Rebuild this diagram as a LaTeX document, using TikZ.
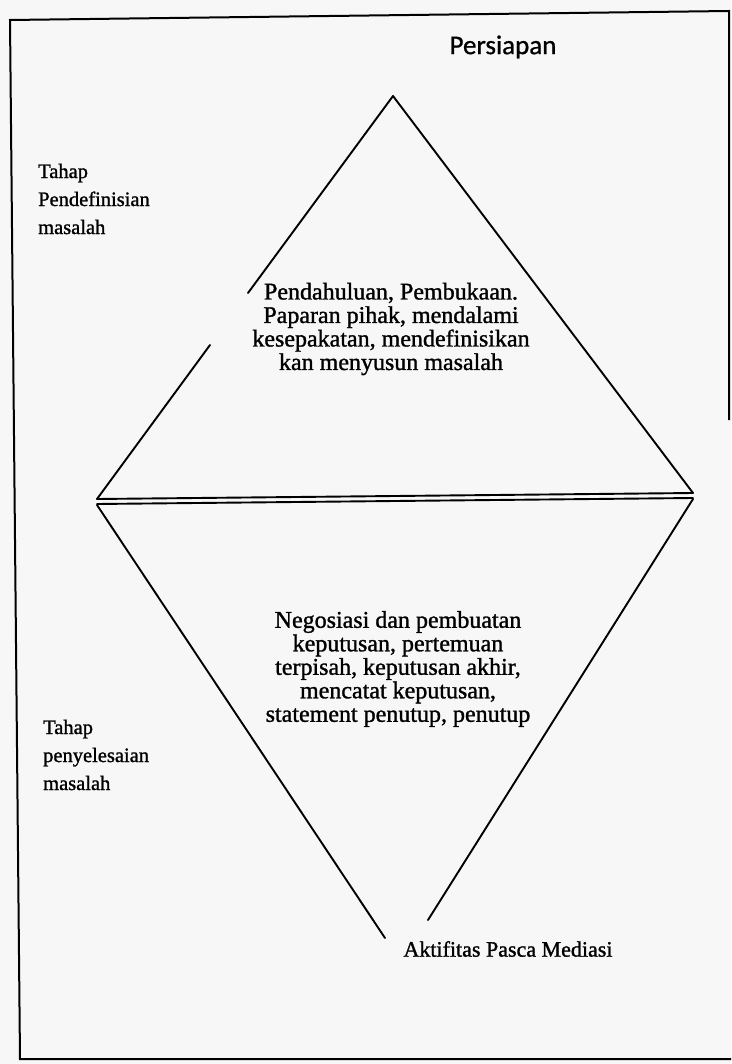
\documentclass[tikz,border=0pt]{standalone}
\usepackage{fontspec}
\setmainfont{Liberation Serif}[FakeBold=1.2]
\newfontfamily\carlitofont{Carlito}[FakeBold=0.8]
\begin{document}
\begin{tikzpicture}[x=1pt,y=-1pt,
  edge/.style={line width=1.9pt,line cap=round,line join=round},
  frameline/.style={line width=2pt},
  midtext/.style={align=center,inner sep=0pt,font=\fontsize{24}{23.5}\selectfont},
  sidetext/.style={align=left,anchor=west,inner sep=0pt,font=\fontsize{20.5}{28}\selectfont},
]
\useasboundingbox (0,0) rectangle (731,1064);
\fill[black!3] (0,0) rectangle (731,1064);
% frame
\coordinate (fTL) at (10,20);
\coordinate (fTR) at (729,11);
\coordinate (fRB) at (729,420);
\coordinate (fBL) at (20,1059);
\coordinate (fBR) at (731,1059);
\draw[frameline] (fRB) -- (fTR) -- (fTL) -- (fBL) -- (fBR);
% upper triangle
\coordinate (apex) at (393,96);
\coordinate (uL) at (97,499);
\coordinate (uR) at (693,493);
\coordinate (gapA) at (248,293);
\coordinate (gapB) at (210,345);
\draw[edge] (apex) -- (gapA);
\draw[edge] (gapB) -- (uL);
\draw[edge] (apex) -- (uR);
% double line
\coordinate (dL) at (97,504);
\coordinate (dR) at (693,498);
\draw[edge] (uL) -- (uR);
\draw[edge] (dL) -- (dR);
% lower triangle
\coordinate (lL) at (97,505);
\coordinate (lR) at (693,499);
\coordinate (bL) at (385,938);
\coordinate (bR) at (428,920);
\draw[edge] (lL) -- (bL);
\draw[edge] (lR) -- (bR);
% texts
\node[inner sep=0pt,font=\carlitofont\fontsize{27}{30}\selectfont] (persiapan) at (503,47) {Persiapan};
\node[sidetext] (tahap1) at (38,199) {Tahap\\Pendefinisian\\masalah};
\node[midtext] (pend) at (391,329) {Pendahuluan, Pembukaan.\\Paparan pihak, mendalami\\kesepakatan, mendefinisikan\\kan menyusun masalah};
\node[midtext] (nego) at (398,669) {Negosiasi dan pembuatan\\keputusan, pertemuan\\terpisah, keputusan akhir,\\mencatat keputusan,\\statement penutup, penutup};
\node[sidetext] (tahap2) at (43,755) {Tahap\\penyelesaian\\masalah};
\node[inner sep=0pt,font=\fontsize{22}{24}\selectfont] (aktif) at (508,949) {Aktifitas Pasca Mediasi};
\end{tikzpicture}
\end{document}
